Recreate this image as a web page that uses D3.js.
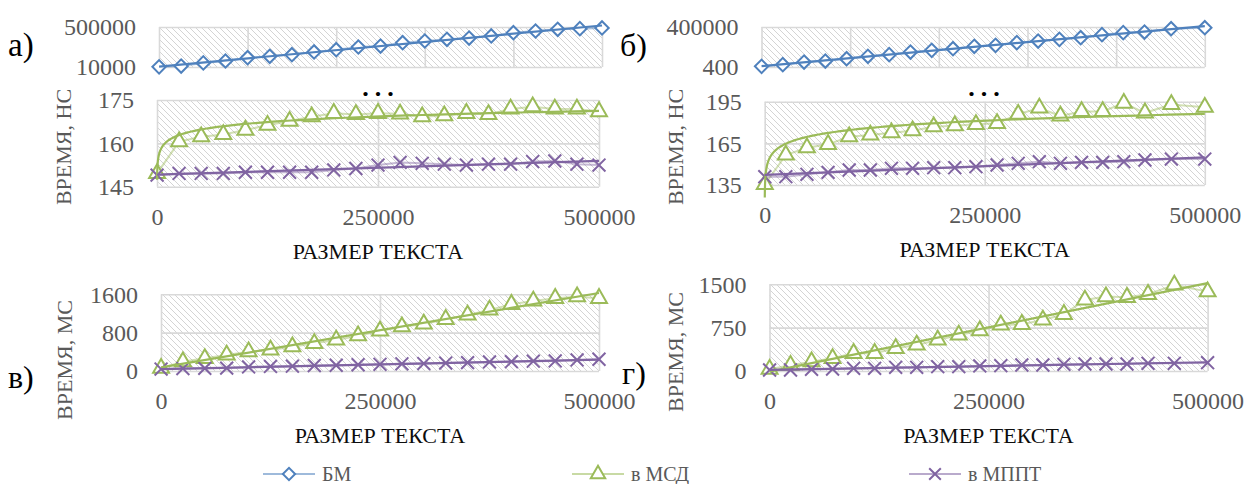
<!DOCTYPE html>
<html>
<head>
<meta charset="utf-8">
<style>
html, body { margin: 0; padding: 0; background: #fff; }
svg { display: block; }
text { font-family: "Liberation Serif", "DejaVu Serif", serif; }
</style>
</head>
<body>
<svg width="1247" height="484"></svg>
<script src="https://cdnjs.cloudflare.com/ajax/libs/d3/7.8.5/d3.min.js"></script>
<script>
// x values (text size) for panels а/в and б/г
const xA = [100, 25000, 50000, 75000, 100000, 125000, 150000, 175000, 200000, 225000, 250000,
            275000, 300000, 325000, 350000, 375000, 400000, 425000, 450000, 475000, 500000];
const xB = [100, 24000, 48000, 72000, 96000, 120000, 144000, 168000, 192000, 216000, 240000,
            264000, 288000, 312000, 336000, 360000, 384000, 408000, 432000, 462000, 500000];

// а) time, ns
const bmA   = [12000, 22000, 60000, 83500, 124000, 141000, 161000, 194000, 222000, 255000, 267000,
               308000, 328500, 349000, 365000, 390000, 430500, 451000, 471500, 480000, 488000];
const msdA  = [149.6, 160.6, 162.3, 163.1, 164.6, 166.3, 167.7, 169.2, 170.4, 170.0, 170.4,
               170.2, 169.2, 169.6, 170.4, 170.0, 171.9, 172.7, 171.9, 171.9, 171.0];
const mpptA = [149.0, 149.6, 149.6, 149.6, 150.0, 150.0, 150.0, 150.0, 150.8, 151.3, 152.5,
               153.4, 153.1, 152.8, 152.5, 152.8, 152.8, 153.7, 153.9, 152.8, 152.5];

// б) time, ns
const bmB   = [7000, 23700, 50300, 60300, 83600, 107000, 123600, 150200, 166900, 183500, 206900,
               216800, 243500, 260100, 276800, 293400, 323400, 343400, 350000, 383300, 393300];
const msdB  = [135.5, 156.6, 161.9, 164.3, 169.8, 171.0, 172.7, 174.1, 177.0, 177.7, 178.7,
               179.4, 186.0, 190.5, 184.7, 188.0, 188.0, 194.0, 187.0, 193.0, 191.0];
const mpptB = [141.0, 141.0, 142.7, 144.1, 145.8, 145.8, 147.0, 147.0, 147.5, 147.5, 148.2,
               149.4, 150.6, 151.8, 150.6, 151.3, 151.3, 151.8, 153.0, 153.7, 153.7];

// в) time, ms
const msdV  = [60, 195, 264, 334, 403, 438, 508, 577, 647, 737, 835,
               925, 981, 1078, 1169, 1273, 1391, 1461, 1517, 1551, 1517];
const mpptV = [40, 50, 55, 60, 85, 95, 100, 115, 120, 130, 140,
               150, 155, 165, 175, 190, 195, 205, 210, 230, 245];

// г) time, ms
const msdG  = [30, 100, 162, 219, 306, 306, 392, 450, 537, 623, 698,
               796, 808, 883, 981, 1229, 1287, 1275, 1327, 1488, 1373];
const mpptG = [17, 17, 29, 35, 46, 46, 63, 63, 75, 75, 87,
               92, 104, 104, 115, 121, 121, 121, 133, 133, 144];

const legendNames = ["БМ", "в МСД", "в МППТ"];
const xTitle = "РАЗМЕР ТЕКСТА";

const BLUE = "#4f81bd", GREEN = "#9bbb59", PURPLE = "#8064a2";

let svg = d3.select("svg");

let defs = svg.append("defs");
defs.append("pattern")
    .attr("id", "hatch")
    .attr("patternUnits", "userSpaceOnUse")
    .attr("width", 6).attr("height", 6)
    .append("path")
    .attr("d", "M-1,-1L7,7M-1,5L1,7M5,-1L7,1")
    .attr("stroke", "#d4d4d4")
    .attr("stroke-width", 1);

function markerPath(kind, size) {
    if (kind === "diamond") return d3.symbol(d3.symbolSquare, size || 90)();
    if (kind === "triangle") return d3.symbol(d3.symbolTriangle, size || 110)();
    return d3.symbol(d3.symbolX, size || 110)();
}

function fit(xs, ys, kind) {
    let tx = kind === "log" ? xs.map(Math.log) : xs;
    let mx = d3.mean(tx), my = d3.mean(ys);
    let b = d3.sum(tx, (t, i) => (t - mx) * (ys[i] - my)) / d3.sum(tx, t => (t - mx) * (t - mx));
    let a = my - b * mx;
    return v => a + b * (kind === "log" ? Math.log(v) : v);
}

function drawPlot(o) {
    let g = svg.append("g");
    let x = d3.scaleLinear().domain([0, 500000]).range(o.xr);
    let y = d3.scaleLinear().domain(o.yd).range(o.yr);
    let w = o.xr[1] - o.xr[0], h = o.yr[0] - o.yr[1];

    g.append("rect")
        .attr("x", o.xr[0]).attr("y", o.yr[1])
        .attr("width", w).attr("height", h)
        .attr("fill", "url(#hatch)");

    let gx = g.append("g")
        .attr("transform", "translate(0," + o.yr[0] + ")")
        .call(d3.axisBottom(x).tickValues(o.xgrid).tickSize(-h).tickFormat(""));
    let gy = g.append("g")
        .attr("transform", "translate(" + o.xr[0] + ",0)")
        .call(d3.axisLeft(y).tickValues(o.yt).tickSize(-w).tickFormat(""));
    [gx, gy].forEach(a => {
        a.select(".domain").remove();
        a.selectAll("line").attr("stroke", "#d9d9d9").attr("stroke-width", 1.6);
    });

    // y tick labels
    let yl = g.append("g")
        .attr("transform", "translate(" + (o.xr[0] - 23) + ",0)")
        .call(d3.axisLeft(y).tickValues(o.yt).tickSize(0).tickPadding(0).tickFormat(d => String(d)));
    yl.select(".domain").remove();
    yl.selectAll("text").attr("font-size", 24).attr("fill", "#595959").attr("dy", "0.33em");

    if (o.xlabels) {
        let xl = g.append("g")
            .attr("transform", "translate(0," + o.yr[0] + ")")
            .call(d3.axisBottom(x).tickValues([0, 250000, 500000]).tickSize(0).tickFormat(d => String(d)));
        xl.select(".domain").remove();
        xl.selectAll("text").attr("font-size", 24).attr("fill", "#595959")
            .attr("y", 30).attr("dy", "0.33em");

        g.append("text")
            .attr("x", (o.xr[0] + o.xr[1]) / 2).attr("y", o.yr[0] + 65)
            .attr("dy", "0.33em")
            .attr("text-anchor", "middle")
            .attr("font-size", 22).attr("fill", "#0d0d0d")
            .text(xTitle);

        g.append("text")
            .attr("transform", "translate(" + o.ytx + "," + o.yty + ") rotate(-90)")
            .attr("dy", "0.33em")
            .attr("text-anchor", "middle")
            .attr("font-size", 22).attr("fill", "#595959")
            .text(o.ytitle);
    }

    // series: faint connecting line + markers
    o.series.forEach(s => {
        let pts = s.x.map((v, i) => [v, s.y[i]]);
        g.append("path")
            .datum(pts)
            .attr("d", d3.line().x(d => x(d[0])).y(d => y(d[1])))
            .attr("fill", "none")
            .attr("stroke", s.color)
            .attr("stroke-opacity", 0.45)
            .attr("stroke-width", 2);
        g.selectAll(null)
            .data(pts)
            .enter().append("path")
            .attr("transform", d => "translate(" + x(d[0]) + "," + y(d[1]) + ")" + (s.marker === "diamond" ? " rotate(45)" : ""))
            .attr("d", markerPath(s.marker))
            .attr("fill", s.marker === "cross" ? "none" : "#fff")
            .attr("stroke", s.color)
            .attr("stroke-width", 2);
    });

    // trendlines on top
    o.series.forEach(s => {
        let f = fit(s.x, s.y, s.trend);
        let x0 = d3.min(s.x), x1 = d3.max(s.x);
        let xs = s.trend === "log"
            ? d3.range(0, 301).map(i => x0 * Math.pow(x1 / x0, i / 300))
            : [x0, x1];
        g.append("path")
            .datum(xs)
            .attr("d", d3.line().x(d => x(d)).y(d => y(f(d))))
            .attr("fill", "none")
            .attr("stroke", s.color)
            .attr("stroke-width", 2.2);
    });
}

const gridTop = [0, 100000, 200000, 300000, 400000, 500000];
const gridMain = [0, 250000, 500000];

// а) top strip
drawPlot({ xr: [159, 602], yr: [67, 27], yd: [10000, 500000], yt: [10000, 500000], xgrid: gridTop,
    series: [{ x: xA, y: bmA, color: BLUE, marker: "diamond", trend: "lin" }] });
// а) main
drawPlot({ xr: [157, 599], yr: [186.7, 100], yd: [145, 175], yt: [145, 160, 175], xgrid: gridMain,
    xlabels: true, ytitle: "ВРЕМЯ, НС", ytx: 64, yty: 147,
    series: [{ x: xA, y: msdA, color: GREEN, marker: "triangle", trend: "log" },
             { x: xA, y: mpptA, color: PURPLE, marker: "cross", trend: "lin" }] });
// б) top strip
drawPlot({ xr: [761.5, 1204.8], yr: [67, 27], yd: [400, 400000], yt: [400, 400000], xgrid: gridTop,
    series: [{ x: xB, y: bmB, color: BLUE, marker: "diamond", trend: "lin" }] });
// б) main
drawPlot({ xr: [764.7, 1204.8], yr: [185, 101.7], yd: [135, 195], yt: [135, 165, 195], xgrid: gridMain,
    xlabels: true, ytitle: "ВРЕМЯ, НС", ytx: 676, yty: 147,
    series: [{ x: xB, y: msdB, color: GREEN, marker: "triangle", trend: "log" },
             { x: xB, y: mpptB, color: PURPLE, marker: "cross", trend: "lin" }] });
// в)
drawPlot({ xr: [161, 599], yr: [371, 294.3], yd: [0, 1600], yt: [0, 800, 1600], xgrid: gridMain,
    xlabels: true, ytitle: "ВРЕМЯ, МС", ytx: 65, yty: 360,
    series: [{ x: xA, y: msdV, color: GREEN, marker: "triangle", trend: "lin" },
             { x: xA, y: mpptV, color: PURPLE, marker: "cross", trend: "lin" }] });
// г)
drawPlot({ xr: [769.5, 1207.6], yr: [371, 284.3], yd: [0, 1500], yt: [0, 750, 1500], xgrid: gridMain,
    xlabels: true, ytitle: "ВРЕМЯ, МС", ytx: 676, yty: 352,
    series: [{ x: xB, y: msdG, color: GREEN, marker: "triangle", trend: "lin" },
             { x: xB, y: mpptG, color: PURPLE, marker: "cross", trend: "lin" }] });

// axis break marks
[378, 984].forEach(cx => {
    svg.append("text")
        .attr("x", cx + 3).attr("y", 96)
        .attr("text-anchor", "middle")
        .attr("font-size", 26).attr("font-weight", "bold")
        .attr("letter-spacing", 6)
        .attr("fill", "#000")
        .text("...");
});

// panel letters
svg.append("text").attr("x", 8).attr("y", 56).attr("font-size", 33)
    .attr("font-family", "'Liberation Sans', Arial, sans-serif").text("а)");
svg.append("text").attr("x", 620).attr("y", 56).attr("font-size", 32).text("б)");
svg.append("text").attr("x", 8).attr("y", 388).attr("font-size", 32).text("в)");
svg.append("text").attr("x", 622).attr("y", 384).attr("font-size", 32).text("г)");

// legend
const legX = [289, 598, 935];
const legColors = [BLUE, GREEN, PURPLE];
const legMarkers = ["diamond", "triangle", "cross"];
let leg = svg.append("g").attr("transform", "translate(0,474)");
legendNames.forEach((name, i) => {
    let cx = legX[i];
    leg.append("line")
        .attr("x1", cx - 26).attr("x2", cx + 26)
        .attr("stroke", legColors[i]).attr("stroke-opacity", 0.55).attr("stroke-width", 2);
    leg.append("path")
        .attr("transform", "translate(" + cx + ",0)" + (legMarkers[i] === "diamond" ? " rotate(45)" : ""))
        .attr("d", markerPath(legMarkers[i], legMarkers[i] === "diamond" ? 75 : 90))
        .attr("fill", legMarkers[i] === "cross" ? "none" : "#fff")
        .attr("stroke", legColors[i]).attr("stroke-width", 2);
    leg.append("text")
        .attr("x", cx + 33).attr("dy", "0.35em")
        .attr("font-size", 20).attr("fill", "#595959")
        .text(name);
});
</script>
</body>
</html>
